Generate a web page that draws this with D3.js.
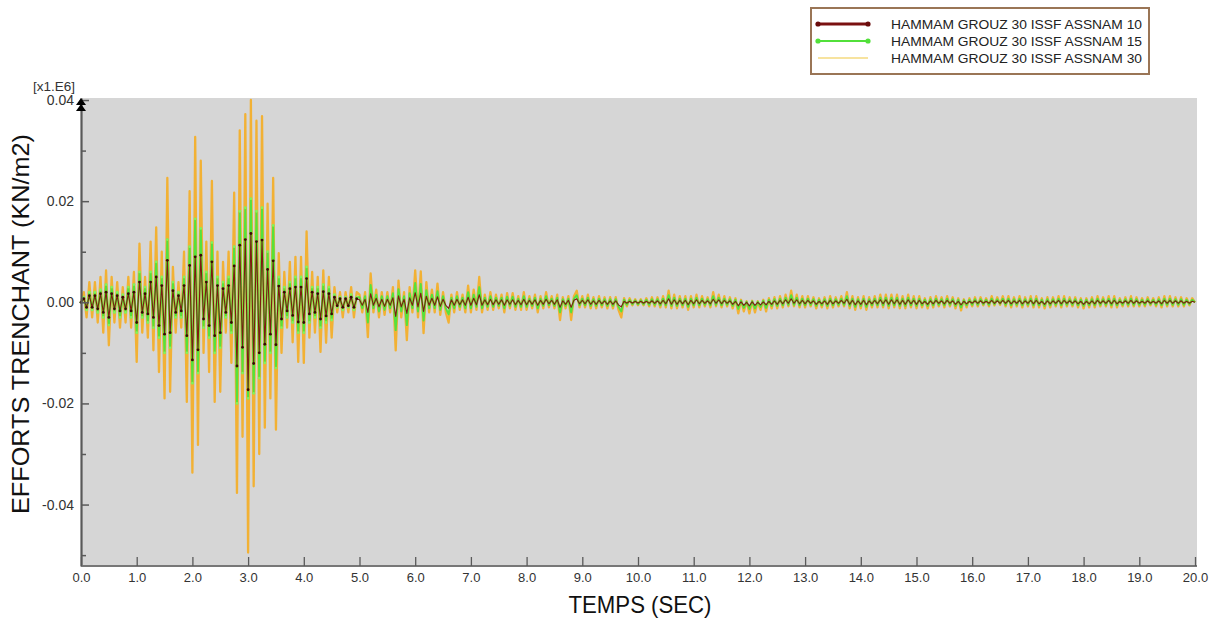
<!DOCTYPE html>
<html>
<head>
<meta charset="utf-8">
<script src="https://cdn.jsdelivr.net/npm/d3@7"></script>
<style>
  html, body { margin: 0; padding: 0; background: #ffffff; }
  svg { display: block; }
  text { font-family: "Liberation Sans", Arial, sans-serif; }
</style>
</head>
<body>
<svg id="chart" width="1224" height="620"></svg>
<script>
// ---------------- DATA ----------------
const seriesNames = [
  "HAMMAM GROUZ 30 ISSF ASSNAM 10",
  "HAMMAM GROUZ 30 ISSF ASSNAM 15",
  "HAMMAM GROUZ 30 ISSF ASSNAM 30"
];
// sampling grid: every 0.05 s from 0 to 20 s (401 samples)
const timeSec = d3.range(401).map(i => +(i * 0.05).toFixed(2));

const xTicks = d3.range(0, 21);
const yMajorTicks = [0.04, 0.02, 0.0, -0.02, -0.04];
const yMinorTicks = [0.03, 0.01, -0.01, -0.03, -0.05];

// ASSNAM 30 (orange)
const assnam30 = [
  // 0.00 - 4.95
  0, 0.002, -0.003, 0.004, -0.003, 0.004, -0.004, 0.005, -0.006, 0.0063,
  -0.0085, 0.005, -0.004, 0.004, -0.005, 0.003, -0.004, 0.005, -0.005, 0.006,
  -0.0118, 0.0116, -0.006, 0.005, -0.007, 0.012, -0.0095, 0.0148, -0.0138, 0.010,
  -0.019, 0.0246, -0.0177, 0.007, -0.006, 0.004, -0.005, 0.010, -0.0197, 0.022,
  -0.0337, 0.0327, -0.0282, 0.028, -0.010, 0.012, -0.0138, 0.024, -0.0197, 0.010,
  -0.0177, 0.008, -0.006, 0.010, -0.012, 0.0217, -0.0377, 0.034, -0.0266, 0.0372,
  -0.0495, 0.040, -0.0364, 0.0359, -0.030, 0.0368, -0.0248, 0.0195, -0.019, 0.0246,
  -0.0252, 0.0097, -0.010, 0.006, -0.005, 0.008, -0.0079, 0.009, -0.0118, 0.009,
  -0.012, 0.014, -0.007, 0.006, -0.006, 0.005, -0.0098, 0.0063, -0.008, 0.005,
  -0.007, 0.003, -0.002, 0.002, -0.003, 0.002, -0.002, 0.003, -0.003, 0.002,
  // 5.00 - 5.95
  0.0015, -0.002, 0.002, -0.0069, 0.0057, -0.002, 0.0025, -0.003, 0.002, -0.0025, 0.002, -0.002, 0.003, -0.0095, 0.0043, -0.003, 0.002, -0.0075, 0.003, -0.002,
  // 6
  0.0063, -0.003, 0.0061, -0.0061, 0.004, -0.002, 0.0025, -0.002, 0.0037, -0.0025, 0.002, -0.002, -0.004, 0.0015, -0.002, 0.002, -0.0015, 0.0015, -0.002, 0.0033,
  // 7
  -0.002, 0.0025, -0.0015, 0.005, -0.002, 0.0015, -0.0015, 0.002, -0.0015, 0.0015, -0.0012, 0.0015, -0.002, 0.0018, -0.0012, 0.0018, -0.0015, 0.0012, -0.0015, 0.002,
  // 8
  -0.0015, 0.0012, -0.0012, 0.0015, -0.002, 0.0012, -0.0012, 0.002, -0.001, 0.0012, -0.0012, 0.0015, -0.0035, 0.001, -0.0012, 0.0012, -0.0035, 0.0012, 0.0023, -0.001,
  // 9
  0.0012, -0.001, 0.0015, -0.0012, 0.001, -0.0012, 0.0012, -0.001, 0.001, -0.0012, 0.001, -0.0012, 0.001, -0.0015, -0.003, 0.0008, -0.0008, 0.0008, -0.0006, 0.0006,
  // 10
  -0.0006, 0.0006, -0.0006, 0.0008, -0.0008, 0.001, -0.0008, 0.001, -0.001, 0.0012, -0.001, 0.0023, -0.0012, 0.0015, -0.0012, 0.0012, -0.001, 0.0012, -0.0015, 0.0012,
  // 11
  -0.001, 0.0015, -0.001, 0.0012, -0.0008, 0.001, -0.001, 0.002, -0.0008, 0.0015, -0.001, 0.0012, -0.0008, 0.001, -0.0012, 0.0008, -0.0022, 0.0005, -0.0018, 0.0002,
  // 12
  -0.0022, 0.0003, -0.002, 0.0002, -0.0015, 0.0005, -0.0018, 0.0008, -0.0012, 0.001, -0.0012, 0.0012, -0.001, 0.0015, -0.0008, 0.0023, -0.0008, 0.0015, -0.001, 0.0012,
  // 13
  -0.001, 0.0012, -0.0008, 0.001, -0.0012, 0.0008, -0.001, 0.001, -0.0012, 0.0012, -0.001, 0.001, -0.0008, 0.0012, -0.0008, 0.002, -0.0012, 0.0012, -0.0015, 0.001,
  // 14
  -0.0012, 0.0012, -0.0015, 0.001, -0.001, 0.0012, -0.001, 0.0015, -0.001, 0.0015, -0.0012, 0.0015, -0.001, 0.0015, -0.0012, 0.0012, -0.0012, 0.0015, -0.001, 0.0012,
  // 15
  -0.0012, 0.0012, -0.001, 0.0008, -0.0012, 0.001, -0.001, 0.0012, -0.0008, 0.001, -0.001, 0.0012, -0.0008, 0.001, -0.0012, 0.0008, -0.0016, 0.0006, -0.001, 0.0008,
  // 16
  -0.0008, 0.001, -0.0008, 0.001, -0.0006, 0.0008, -0.0008, 0.0012, -0.0006, 0.001, -0.0005, 0.0012, -0.0008, 0.0012, -0.001, 0.001, -0.0008, 0.0012, -0.001, 0.001,
  // 17
  -0.0008, 0.0012, -0.001, 0.0012, -0.001, 0.0008, -0.0012, 0.001, -0.001, 0.001, -0.0008, 0.0012, -0.001, 0.0012, -0.0008, 0.001, -0.0008, 0.001, -0.001, 0.0008,
  // 18
  -0.0012, 0.0008, -0.001, 0.001, -0.001, 0.0012, -0.0008, 0.001, -0.0008, 0.0012, -0.001, 0.0012, -0.001, 0.0008, -0.0008, 0.001, -0.0008, 0.0012, -0.0008, 0.001,
  // 19
  -0.0008, 0.0008, -0.0008, 0.001, -0.0006, 0.0008, -0.0008, 0.001, -0.001, 0.0012, -0.0008, 0.0012, -0.0008, 0.001, -0.0008, 0.001, -0.0008, 0.0008, -0.0006, 0.0008,
  // 20
  0
];

// ASSNAM 15 (green)
const assnam15 = [
  // 0.00 - 4.95
  0, 0.001, -0.0015, 0.002, -0.0015, 0.002, -0.002, 0.0025, -0.003, 0.0035,
  -0.0045, 0.003, -0.002, 0.002, -0.003, 0.0015, -0.002, 0.003, -0.003, 0.0035,
  -0.006, 0.006, -0.003, 0.003, -0.004, 0.006, -0.005, 0.008, -0.007, 0.005,
  -0.010, 0.0124, -0.009, 0.004, -0.003, 0.002, -0.003, 0.005, -0.010, 0.011,
  -0.016, 0.0165, -0.014, 0.0146, -0.005, 0.006, -0.007, 0.0118, -0.010, 0.005,
  -0.009, 0.004, -0.003, 0.005, -0.006, 0.011, -0.020, 0.018, -0.014, 0.0187,
  -0.019, 0.0205, -0.018, 0.018, -0.015, 0.0187, -0.012, 0.010, -0.010, 0.0152,
  -0.013, 0.005, -0.005, 0.003, -0.003, 0.004, -0.004, 0.005, -0.006, 0.005,
  -0.006, 0.007, -0.004, 0.003, -0.003, 0.003, -0.005, 0.0035, -0.004, 0.003,
  -0.0035, 0.0015, -0.001, 0.001, -0.0015, 0.001, -0.001, 0.0015, -0.0015, 0.001,
  // 5
  0.001, -0.0012, 0.0012, -0.004, 0.0034, -0.0012, 0.0015, -0.0018, 0.0012, -0.0015, 0.0012, -0.0012, 0.0018, -0.0055, 0.0026, -0.0018, 0.0012, -0.0045, 0.0018, -0.0012,
  // 6
  0.0038, -0.0018, 0.0036, -0.0036, 0.0024, -0.0012, 0.0015, -0.0012, 0.0022, -0.0015, 0.0012, -0.0012, -0.0024, 0.0009, -0.0012, 0.0012, -0.0009, 0.0009, -0.0012, 0.002,
  // 7
  -0.0012, 0.0015, -0.0009, 0.003, -0.0012, 0.0009, -0.0009, 0.0012, -0.0009, 0.0009, -0.0007, 0.0009, -0.0012, 0.0011, -0.0007, 0.0011, -0.0009, 0.0007, -0.0009, 0.0012,
  // 8
  -0.0009, 0.0007, -0.0007, 0.0009, -0.0012, 0.0007, -0.0007, 0.0012, -0.0006, 0.0007, -0.0007, 0.0009, -0.002, 0.0006, -0.0007, 0.0007, -0.002, 0.0007, 0.0014, -0.0006,
  // 9
  0.0007, -0.0006, 0.0009, -0.0007, 0.0006, -0.0007, 0.0007, -0.0006, 0.0006, -0.0007, 0.0006, -0.0007, 0.0006, -0.0009, -0.0018, 0.0005, -0.0005, 0.0005, -0.0004, 0.0004,
  // 10
  -0.0004, 0.0004, -0.0004, 0.0005, -0.0005, 0.0006, -0.0005, 0.0006, -0.0006, 0.0007, -0.0006, 0.0014, -0.0007, 0.0009, -0.0007, 0.0007, -0.0006, 0.0007, -0.0009, 0.0007,
  // 11
  -0.0006, 0.0009, -0.0006, 0.0007, -0.0005, 0.0006, -0.0006, 0.0012, -0.0005, 0.0009, -0.0006, 0.0007, -0.0005, 0.0006, -0.0007, 0.0005, -0.0013, 0.0003, -0.0011, 0.0001,
  // 12
  -0.0013, 0.0002, -0.0012, 0.0001, -0.0009, 0.0003, -0.0011, 0.0005, -0.0007, 0.0006, -0.0007, 0.0007, -0.0006, 0.0009, -0.0005, 0.0014, -0.0005, 0.0009, -0.0006, 0.0007,
  // 13
  -0.0006, 0.0007, -0.0005, 0.0006, -0.0007, 0.0005, -0.0006, 0.0006, -0.0007, 0.0007, -0.0006, 0.0006, -0.0005, 0.0007, -0.0005, 0.0012, -0.0007, 0.0007, -0.0009, 0.0006,
  // 14
  -0.0007, 0.0007, -0.0009, 0.0006, -0.0006, 0.0007, -0.0006, 0.0009, -0.0006, 0.0009, -0.0007, 0.0009, -0.0006, 0.0009, -0.0007, 0.0007, -0.0007, 0.0009, -0.0006, 0.0007,
  // 15
  -0.0007, 0.0007, -0.0006, 0.0005, -0.0007, 0.0006, -0.0006, 0.0007, -0.0005, 0.0006, -0.0006, 0.0007, -0.0005, 0.0006, -0.0007, 0.0005, -0.001, 0.0004, -0.0006, 0.0005,
  // 16
  -0.0005, 0.0006, -0.0005, 0.0006, -0.0004, 0.0005, -0.0005, 0.0007, -0.0004, 0.0006, -0.0003, 0.0007, -0.0005, 0.0007, -0.0006, 0.0006, -0.0005, 0.0007, -0.0006, 0.0006,
  // 17
  -0.0005, 0.0007, -0.0006, 0.0007, -0.0006, 0.0005, -0.0007, 0.0006, -0.0006, 0.0006, -0.0005, 0.0007, -0.0006, 0.0007, -0.0005, 0.0006, -0.0005, 0.0006, -0.0006, 0.0005,
  // 18
  -0.0007, 0.0005, -0.0006, 0.0006, -0.0006, 0.0007, -0.0005, 0.0006, -0.0005, 0.0007, -0.0006, 0.0007, -0.0006, 0.0005, -0.0005, 0.0006, -0.0005, 0.0007, -0.0005, 0.0006,
  // 19
  -0.0005, 0.0005, -0.0005, 0.0006, -0.0004, 0.0005, -0.0005, 0.0006, -0.0006, 0.0007, -0.0005, 0.0007, -0.0005, 0.0006, -0.0005, 0.0006, -0.0005, 0.0005, -0.0004, 0.0005,
  // 20
  0
];

// ASSNAM 10 (dark red)
const assnam10 = [
  // 0.00 - 4.95
  0, 0.0007, -0.001, 0.0013, -0.001, 0.0013, -0.0013, 0.0017, -0.002, 0.002,
  -0.003, 0.0017, -0.0013, 0.0013, -0.0017, 0.001, -0.0013, 0.0017, -0.0017, 0.002,
  -0.004, 0.004, -0.002, 0.0017, -0.0023, 0.004, -0.003, 0.005, -0.0046, 0.0033,
  -0.0063, 0.0083, -0.006, 0.0023, -0.002, 0.0013, -0.0017, 0.0033, -0.0066, 0.0073,
  -0.0114, 0.009, -0.0094, 0.0093, -0.0033, 0.004, -0.0046, 0.008, -0.0066, 0.0033,
  -0.006, 0.0027, -0.002, 0.0033, -0.004, 0.0072, -0.0126, 0.0113, -0.0089, 0.0124,
  -0.0173, 0.0136, -0.0121, 0.012, -0.010, 0.0123, -0.0083, 0.0065, -0.0063, 0.0082,
  -0.0084, 0.0032, -0.0033, 0.002, -0.0017, 0.0027, -0.0026, 0.003, -0.0039, 0.003,
  -0.004, 0.0047, -0.0023, 0.002, -0.002, 0.0017, -0.0033, 0.0021, -0.0027, 0.0017,
  -0.0023, 0.001, -0.0007, 0.0007, -0.001, 0.0007, -0.0007, 0.001, -0.001, 0.0007,
  // 5
  0.0005, -0.0006, 0.0006, -0.002, 0.0017, -0.0006, 0.0008, -0.0009, 0.0006, -0.0008, 0.0006, -0.0006, 0.0009, -0.0028, 0.0013, -0.0009, 0.0006, -0.0022, 0.0009, -0.0006,
  // 6
  0.0019, -0.0009, 0.0018, -0.0018, 0.0012, -0.0006, 0.0008, -0.0006, 0.0011, -0.0008, 0.0006, -0.0006, -0.0012, 0.0005, -0.0006, 0.0006, -0.0005, 0.0005, -0.0006, 0.001,
  // 7
  -0.0006, 0.0008, -0.0005, 0.0015, -0.0006, 0.0005, -0.0005, 0.0006, -0.0005, 0.0005, -0.0004, 0.0005, -0.0006, 0.0005, -0.0004, 0.0005, -0.0005, 0.0004, -0.0005, 0.0006,
  // 8
  -0.0005, 0.0004, -0.0004, 0.0005, -0.0006, 0.0004, -0.0004, 0.0006, -0.0003, 0.0004, -0.0004, 0.0005, -0.001, 0.0003, -0.0004, 0.0004, -0.001, 0.0004, 0.0007, -0.0003,
  // 9
  0.0004, -0.0003, 0.0005, -0.0004, 0.0003, -0.0004, 0.0004, -0.0003, 0.0003, -0.0004, 0.0003, -0.0004, 0.0003, -0.0005, -0.0009, 0.0002, -0.0002, 0.0002, -0.0002, 0.0002,
  // 10
  -0.0002, 0.0002, -0.0002, 0.0002, -0.0002, 0.0003, -0.0002, 0.0003, -0.0003, 0.0004, -0.0003, 0.0007, -0.0004, 0.0005, -0.0004, 0.0004, -0.0003, 0.0004, -0.0005, 0.0004,
  // 11
  -0.0003, 0.0005, -0.0003, 0.0004, -0.0002, 0.0003, -0.0003, 0.0006, -0.0002, 0.0005, -0.0003, 0.0004, -0.0002, 0.0003, -0.0004, 0.0002, -0.0007, 0.0001, -0.0006, 0,
  // 12
  -0.0007, 0.0001, -0.0006, 0, -0.0005, 0.0001, -0.0005, 0.0002, -0.0004, 0.0003, -0.0004, 0.0004, -0.0003, 0.0005, -0.0002, 0.0007, -0.0002, 0.0005, -0.0003, 0.0004,
  // 13
  -0.0003, 0.0004, -0.0002, 0.0003, -0.0004, 0.0002, -0.0003, 0.0003, -0.0004, 0.0004, -0.0003, 0.0003, -0.0002, 0.0004, -0.0002, 0.0006, -0.0004, 0.0004, -0.0005, 0.0003,
  // 14
  -0.0004, 0.0004, -0.0005, 0.0003, -0.0003, 0.0004, -0.0003, 0.0005, -0.0003, 0.0005, -0.0004, 0.0005, -0.0003, 0.0005, -0.0004, 0.0004, -0.0004, 0.0005, -0.0003, 0.0004,
  // 15
  -0.0004, 0.0004, -0.0003, 0.0002, -0.0004, 0.0003, -0.0003, 0.0004, -0.0002, 0.0003, -0.0003, 0.0004, -0.0002, 0.0003, -0.0004, 0.0002, -0.0005, 0.0002, -0.0003, 0.0002,
  // 16
  -0.0002, 0.0003, -0.0002, 0.0003, -0.0002, 0.0002, -0.0002, 0.0004, -0.0002, 0.0003, -0.0002, 0.0004, -0.0002, 0.0004, -0.0003, 0.0003, -0.0002, 0.0004, -0.0003, 0.0003,
  // 17
  -0.0002, 0.0004, -0.0003, 0.0004, -0.0003, 0.0002, -0.0004, 0.0003, -0.0003, 0.0003, -0.0002, 0.0004, -0.0003, 0.0004, -0.0002, 0.0003, -0.0002, 0.0003, -0.0003, 0.0002,
  // 18
  -0.0004, 0.0002, -0.0003, 0.0003, -0.0003, 0.0004, -0.0002, 0.0003, -0.0002, 0.0004, -0.0003, 0.0004, -0.0003, 0.0002, -0.0002, 0.0003, -0.0002, 0.0004, -0.0002, 0.0003,
  // 19
  -0.0002, 0.0002, -0.0002, 0.0003, -0.0002, 0.0002, -0.0002, 0.0003, -0.0003, 0.0004, -0.0002, 0.0004, -0.0002, 0.0003, -0.0002, 0.0003, -0.0002, 0.0002, -0.0002, 0.0002,
  // 20
  0
];

// ---------------- CHART ----------------
const svg = d3.select("#chart");
const plot = { left: 81, right: 1197, top: 98, bottom: 566 };

const x = d3.scaleLinear().domain([0, 20]).range([81, 1195]);
const y = d3.scaleLinear().domain([-0.05215, 0.0404]).range([plot.bottom, plot.top]);

svg.append("rect").attr("x", 0).attr("y", 0).attr("width", 1224).attr("height", 620).attr("fill", "#ffffff");
svg.append("rect")
  .attr("x", plot.left).attr("y", plot.top)
  .attr("width", plot.right - plot.left).attr("height", plot.bottom - plot.top)
  .attr("fill", "#d6d6d6");

const line = d3.line().x((d, i) => x(timeSec[i])).y(d => y(d));
const gLines = svg.append("g");

function drawLine(values, color, width) {
  gLines.append("path")
    .attr("d", line(values))
    .attr("fill", "none")
    .attr("stroke", color)
    .attr("stroke-width", width)
    .attr("stroke-linejoin", "round");
}
function drawMarkers(values, color, r, count) {
  gLines.append("g").selectAll("circle")
    .data(values.slice(0, count))
    .join("circle")
    .attr("cx", (d, i) => x(timeSec[i]))
    .attr("cy", d => y(d))
    .attr("r", r)
    .attr("fill", color);
}

drawLine(assnam30, "#f2b134", 2.3);
drawLine(assnam15, "#55e23c", 2.0);
drawMarkers(assnam15, "#86f25a", 1.4, 100);
drawLine(assnam10, "#7e1c10", 1.1);
drawMarkers(assnam10, "#3a0806", 1.4, 100);

// axes
const axisColor = "#5a5a5a";
const yAxis = svg.append("g").attr("transform", `translate(${plot.left},0)`)
  .call(d3.axisLeft(y).tickValues(yMajorTicks).tickSize(-8).tickSizeOuter(0).tickPadding(7)
    .tickFormat(d => d.toFixed(2)));
yAxis.select(".domain").attr("stroke", axisColor).attr("stroke-width", 2.2);
yAxis.selectAll(".tick line").attr("stroke", axisColor).attr("stroke-width", 1.5);
yAxis.selectAll(".tick text").attr("font-size", 14).attr("fill", "#333")
  .attr("font-family", "Liberation Sans, Arial, sans-serif");

const yMinor = svg.append("g").attr("transform", `translate(${plot.left},0)`)
  .call(d3.axisLeft(y).tickValues(yMinorTicks).tickSize(-5).tickSizeOuter(0).tickFormat(""));
yMinor.select(".domain").remove();
yMinor.selectAll(".tick line").attr("stroke", axisColor).attr("stroke-width", 1.5);

const xAxis = svg.append("g").attr("transform", `translate(0,${plot.bottom})`)
  .call(d3.axisBottom(x).tickValues(xTicks).tickSize(-9).tickSizeOuter(0).tickPadding(7)
    .tickFormat(d => d.toFixed(1)));
xAxis.select(".domain").attr("d", `M${plot.left},0H${plot.right}`)
  .attr("stroke", "#777").attr("stroke-width", 2);
xAxis.selectAll(".tick line").attr("stroke", axisColor).attr("stroke-width", 1.3);
xAxis.selectAll(".tick text").attr("font-size", 13).attr("fill", "#333")
  .attr("font-family", "Liberation Sans, Arial, sans-serif");

// double arrow head on the y axis
[98, 104].forEach(ty => {
  svg.append("path")
    .attr("d", `M${plot.left},${ty} L${plot.left - 5},${ty + 7} L${plot.left + 5},${ty + 7} Z`)
    .attr("fill", "#000");
});

svg.append("text").attr("x", 75).attr("y", 91).attr("text-anchor", "end")
  .attr("font-size", 13.5).attr("fill", "#333").text("[x1.E6]");

svg.append("text")
  .attr("transform", "translate(29,324) rotate(-90)")
  .attr("text-anchor", "middle")
  .attr("font-size", 24).attr("fill", "#111")
  .attr("textLength", 380).attr("lengthAdjust", "spacingAndGlyphs")
  .text("EFFORTS TRENCHANT (KN/m2)");

svg.append("text")
  .attr("x", 640).attr("y", 613)
  .attr("text-anchor", "middle")
  .attr("font-size", 24).attr("fill", "#111")
  .attr("textLength", 143).attr("lengthAdjust", "spacingAndGlyphs")
  .text("TEMPS (SEC)");

// legend
const legend = svg.append("g");
legend.append("rect")
  .attr("x", 811).attr("y", 8).attr("width", 338).attr("height", 66)
  .attr("fill", "#ffffff").attr("stroke", "#9a7556").attr("stroke-width", 2);
const legendItems = [
  { name: seriesNames[0], color: "#7a1010", width: 3, dot: "#6a0c0c", ly: 24 },
  { name: seriesNames[1], color: "#52e03a", width: 2, dot: "#52e03a", ly: 41 },
  { name: seriesNames[2], color: "#f0c840", width: 1.2, dot: null, ly: 58 }
];
legendItems.forEach(it => {
  legend.append("line").attr("x1", 818).attr("x2", 868).attr("y1", it.ly).attr("y2", it.ly)
    .attr("stroke", it.color).attr("stroke-width", it.width);
  if (it.dot) {
    [818, 868].forEach(cx => legend.append("circle").attr("cx", cx).attr("cy", it.ly)
      .attr("r", 2.6).attr("fill", it.dot));
  }
  legend.append("text").attr("x", 891).attr("y", it.ly + 4.5)
    .attr("font-size", 13).attr("fill", "#222")
    .attr("textLength", 251).attr("lengthAdjust", "spacingAndGlyphs")
    .text(it.name);
});
</script>
</body>
</html>
